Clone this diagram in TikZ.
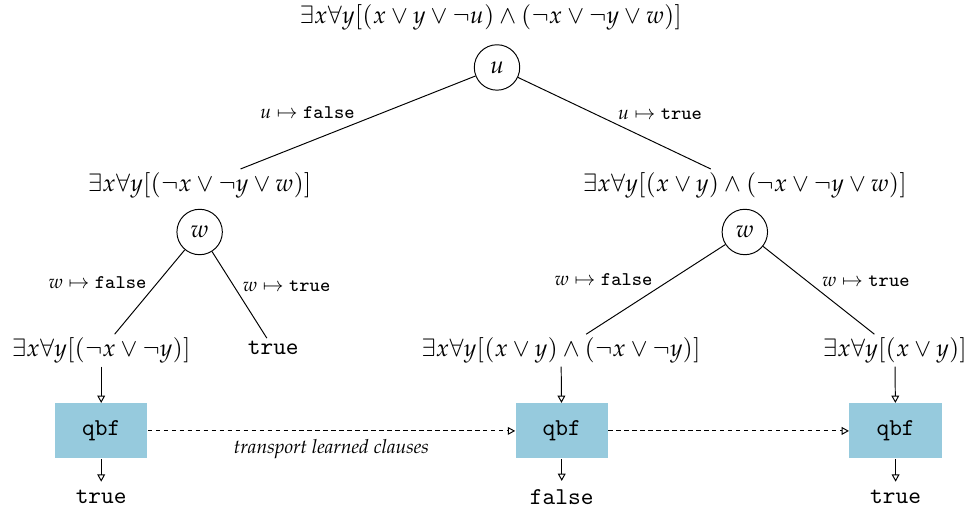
\documentclass[tikz,border=0pt]{standalone}
\usepackage{fontspec}
\usepackage[T1]{fontenc}
\usepackage{mathpazo}
\newfontfamily\codefont{Latin Modern Mono}
\usepackage{tikz}
\usetikzlibrary{arrows.meta,positioning}
\definecolor{QbfBlue}{HTML}{96CADD}
\newcommand{\tval}[1]{{\codefont #1}}
\newcommand{\assign}[2]{$#1\mapsto{}$\tval{#2}}

\begin{document}
\begin{tikzpicture}[
  formula/.style={inner sep=1.2pt},
  var/.style={draw,circle,minimum size=6.6mm,inner sep=0pt},
  solver/.style={fill=QbfBlue,minimum width=13.4mm,minimum height=8mm,font=\codefont},
  branch/.style={draw,line width=0.4pt},
  lbl/.style={font=\footnotesize,midway,inner sep=1.2pt},
  flow/.style={-{Triangle[open,length=3pt,width=3.2pt]},line width=0.4pt},
  transport/.style={flow,dash pattern=on 1.8pt off 1.5pt}
]
\useasboundingbox (0,0) rectangle (14.12,7.44);
% search tree over the outer variables
\node[formula] (root) at (7.13,7.19) {$\exists x\forall y[(x\lor y\lor\neg u)\land(\neg x\lor\neg y\lor w)]$};
\node[var] (u) at (7.22,6.46) {$u$};
\node[formula] (fl) at (2.90,4.75) {$\exists x\forall y[(\neg x\lor\neg y\lor w)]$};
\node[var] (wl) at (2.90,4.07) {$w$};
\node[formula] (fr) at (10.82,4.75) {$\exists x\forall y[(x\lor y)\land(\neg x\lor\neg y\lor w)]$};
\node[var] (wr) at (10.82,4.07) {$w$};
\node[formula] (fll) at (1.47,2.35) {$\exists x\forall y[(\neg x\lor\neg y)]$};
\node[formula] (flr) at (3.97,2.38) {\tval{true}};
\node[formula] (frl) at (8.15,2.35) {$\exists x\forall y[(x\lor y)\land(\neg x\lor\neg y)]$};
\node[formula] (frr) at (13.00,2.35) {$\exists x\forall y[(x\lor y)]$};
\draw[branch] (u) -- node[lbl,above left] {\assign{u}{false}} (fl);
\draw[branch] (u) -- node[lbl,above right] {\assign{u}{true}} (fr);
\draw[branch] (wl) -- node[lbl,above left] {\assign{w}{false}} (fll);
\draw[branch] (wl) -- node[lbl,above right] {\assign{w}{true}} (flr);
\draw[branch] (wr) -- node[lbl,above left] {\assign{w}{false}} (frl);
\draw[branch] (wr) -- node[lbl,above right] {\assign{w}{true}} (frr);
% solver calls on the leaves
\node[solver] (q1) at (1.47,1.18) {qbf};
\node[solver] (q2) at (8.16,1.18) {qbf};
\node[solver] (q3) at (13.01,1.18) {qbf};
\node (r1) at (1.47,0.22) {\tval{true}};
\node (r2) at (8.16,0.22) {\tval{false}};
\node (r3) at (13.01,0.22) {\tval{true}};
\draw[flow] (fll) -- (q1);
\draw[flow] (frl) -- (q2);
\draw[flow] (frr) -- (q3);
\draw[flow] (q1) -- (r1);
\draw[flow] (q2) -- (r2);
\draw[flow] (q3) -- (r3);
\draw[transport] (q1) -- node[lbl,below=2pt,font=\footnotesize\itshape] {transport learned clauses} (q2);
\draw[transport] (q2) -- (q3);
\end{tikzpicture}
\end{document}
